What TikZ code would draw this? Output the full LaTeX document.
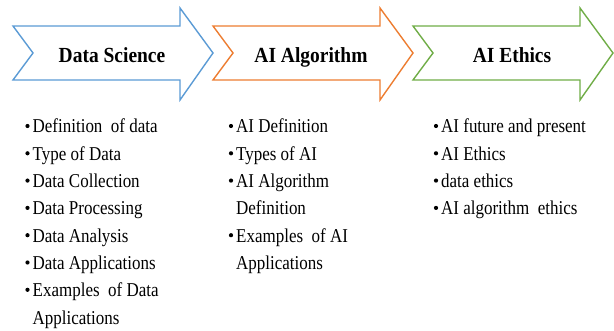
\documentclass[tikz,border=0pt]{standalone}
\usepackage{fontspec}
\setmainfont{Liberation Serif}
\definecolor{dsblue}{RGB}{91,155,213}
\definecolor{aiorange}{RGB}{237,125,49}
\definecolor{ethgreen}{RGB}{112,173,71}
\tikzset{
  chevron/.style={line width=1.4pt, line join=miter, fill=white},
  title/.style={anchor=base, font=\bfseries\fontsize{20.5}{24}\selectfont, inner sep=0pt},
  entry/.style={anchor=base west, inner sep=0pt, font=\fontsize{17.5}{20}\selectfont},
  dot/.style={circle, fill=black, inner sep=0pt, minimum size=4.2pt},
}
% one chevron whose tail starts at x = #1
\newcommand{\chevronpath}[1]{
  (#1,26) -- ++(167,0) -- ++(0,-18) -- ++(33,45) -- ++(-33,47) -- ++(0,-20)
  -- ++(-167,0) -- ++(20,-27) -- cycle}
\newcommand{\stretched}[1]{\scalebox{0.97}[1.12]{#1}}
\begin{document}
\begin{tikzpicture}[x=1pt, y=-1pt]
  \useasboundingbox (0,0) rectangle (614,331);

  % the three stages
  \draw[chevron, draw=dsblue]   \chevronpath{13};
  \draw[chevron, draw=aiorange] \chevronpath{213};
  \draw[chevron, draw=ethgreen] \chevronpath{413};

  \node[title] (t1) at (112,63) {\scalebox{0.95}[1.05]{Data Science}};
  \node[title] (t2) at (311,63) {\scalebox{0.95}[1.05]{AI Algorithm}};
  \node[title] (t3) at (512,63) {\scalebox{0.95}[1.05]{AI Ethics}};

  % first column
  \foreach \y/\txt [count=\i] in {133/{Definition~ of data}, 160.3/{Type of Data},
      187.6/{Data Collection}, 214.9/{Data Processing}, 242.2/{Data Analysis},
      269.5/{Data Applications}, 296.8/{Examples~ of Data}} {
    \node[dot] (a\i b) at (27.5,\y-7) {};
    \node[entry] (a\i) at (32.5,\y) {\stretched{\txt}};
  }
  \node[entry] (a8) at (32.5,324.1) {\stretched{Applications}};

  % second column
  \foreach \y/\txt [count=\i] in {133/{AI Definition}, 160.3/{Types of AI},
      187.6/{AI Algorithm}} {
    \node[dot] (b\i b) at (231,\y-7) {};
    \node[entry] (b\i) at (236,\y) {\stretched{\txt}};
  }
  \node[entry] (b4) at (236,214.9) {\stretched{Definition}};
  \node[dot] (b5b) at (231,242.2-7) {};
  \node[entry] (b5) at (236,242.2) {\stretched{Examples~ of AI}};
  \node[entry] (b6) at (236,269.5) {\stretched{Applications}};

  % third column
  \foreach \y/\txt [count=\i] in {133/{AI future and present}, 160.3/{AI Ethics},
      187.6/{data ethics}, 214.9/{AI algorithm~ ethics}} {
    \node[dot] (c\i b) at (436,\y-7) {};
    \node[entry] (c\i) at (441,\y) {\stretched{\txt}};
  }
\end{tikzpicture}
\end{document}
